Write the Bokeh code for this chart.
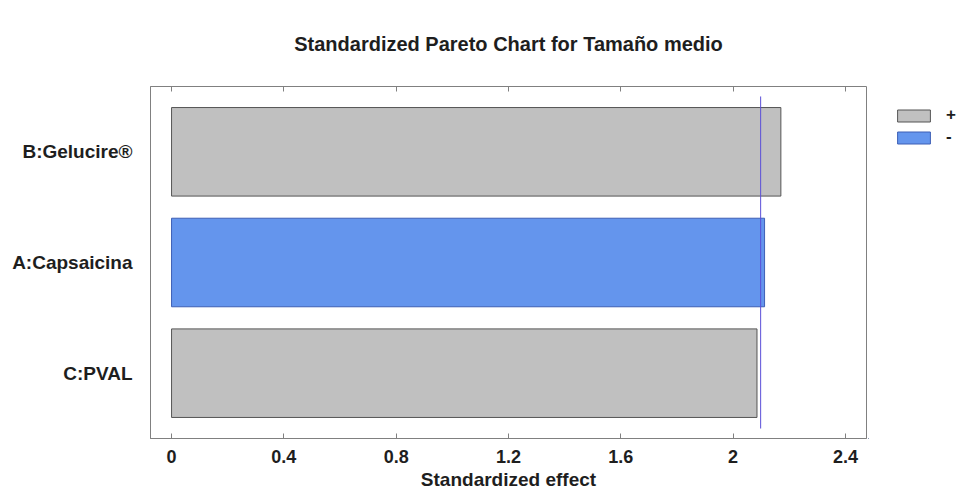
from bokeh.plotting import figure
from bokeh.layouts import row
from bokeh.models import (FixedTicker, LinearAxis, Legend, LegendItem, ColumnDataSource,
                          CustomJSTickFormatter, Range1d)
from bokeh.embed import file_html
from bokeh.resources import INLINE

# ---- data (bottom to top) ----
factors = ["C:PVAL", "A:Capsaicina", "B:Gelucire®"]
effects = [2.085, 2.112, 2.170]
signs = ["+", "-", "+"]
critical_value = 2.098
x_ticks = [0, 0.4, 0.8, 1.2, 1.6, 2.0, 2.4]
legend_labels = ["+", "-"]

FONT = "Liberation Sans"
TXT = "#1e1e1e"
fill_map = {"+": "#c0c0c0", "-": "#6495ed"}
line_map = {"+": "#555555", "-": "#3d5fb5"}

ypos = [i + 1 for i in range(len(factors))]
src = ColumnDataSource(dict(
    y=ypos, right=effects, sign=signs,
    fill=[fill_map[s] for s in signs],
    line=[line_map[s] for s in signs],
))

p = figure(width=868, height=492, output_backend="svg", toolbar_location=None,
           x_range=Range1d(-0.075, 2.475), y_range=Range1d(0.41, 3.59),
           min_border_left=150, min_border_right=2, min_border_top=86, min_border_bottom=51,
           title="Standardized Pareto Chart for Tamaño medio")
p.title.align = "center"
p.title.vertical_align = "top"
p.title.text_font = FONT
p.title.text_font_size = "20px"
p.title.text_font_style = "bold"
p.title.text_color = TXT
p.title.standoff = 60

p.grid.visible = False
p.outline_line_color = "#808080"
p.outline_line_width = 1
p.background_fill_color = "white"

r = p.hbar(y="y", right="right", left=0, height=0.8, source=src,
           fill_color="fill", line_color="line", line_width=1)

p.segment(x0=[critical_value], x1=[critical_value], y0=[0.5], y1=[3.5],
          line_color="#5a4fd8", line_width=1)

# x axis (bottom)
fmt = CustomJSTickFormatter(code="return (Math.round(tick*10)/10).toString();")
xa = p.xaxis[0]
xa.ticker = FixedTicker(ticks=x_ticks)
xa.formatter = fmt
xa.major_tick_in = 5
xa.major_tick_out = 0
xa.minor_tick_line_color = None
xa.axis_line_color = "#808080"
xa.major_tick_line_color = "#808080"
xa.major_label_text_font = FONT
xa.major_label_text_font_style = "bold"
xa.major_label_text_font_size = "18px"
xa.major_label_text_color = TXT
xa.major_label_standoff = 11
xa.axis_label = "Standardized effect"
xa.axis_label_text_font = FONT
xa.axis_label_text_font_style = "bold"
xa.axis_label_text_font_size = "19px"
xa.axis_label_text_color = TXT
xa.axis_label_standoff = 3

# mirrored ticks on top
top = LinearAxis(ticker=FixedTicker(ticks=x_ticks), major_tick_in=5, major_tick_out=0,
                 minor_tick_line_color=None, axis_line_color=None,
                 major_tick_line_color="#808080", major_label_text_alpha=0,
                 major_label_text_font_size="1px", major_label_standoff=0)
p.add_layout(top, "above")

# y axis
ya = p.yaxis[0]
ya.ticker = FixedTicker(ticks=ypos)
ya.major_label_overrides = {y: f for y, f in zip(ypos, factors)}
ya.major_tick_line_color = None
ya.minor_tick_line_color = None
ya.axis_line_color = "#808080"
ya.major_label_text_font = FONT
ya.major_label_text_font_style = "bold"
ya.major_label_text_font_size = "19px"
ya.major_label_text_color = TXT
ya.major_label_standoff = 12

# legend panel to the right of the plot (its frame is aligned with the plot's frame);
# the proxy bars lie outside this panel's ranges, only their legend glyphs show
q = figure(width=91, height=492, output_backend="svg", toolbar_location=None,
           x_axis_type=None, y_axis_type=None, x_range=Range1d(10, 11), y_range=Range1d(10, 11),
           min_border=0, min_border_left=0, min_border_right=0,
           min_border_top=0, min_border_bottom=0)
q.outline_line_color = None
q.grid.visible = False
items = []
for s in legend_labels:
    sel = [i for i, sg in enumerate(signs) if sg == s]
    lr = q.hbar(y=[ypos[i] for i in sel], right=[effects[i] for i in sel], left=0, height=0.8,
                fill_color=fill_map[s], line_color=line_map[s], line_width=1)
    items.append(LegendItem(label=s, renderers=[lr]))
legend = Legend(items=items, location=(25, 291), glyph_width=41, glyph_height=15,
                label_height=15, spacing=2, padding=0, margin=0,
                border_line_color=None, background_fill_alpha=0,
                label_text_font=FONT, label_text_font_style="bold",
                label_text_font_size="17px", label_text_color=TXT, label_standoff=12)
q.add_layout(legend)

layout = row(p, q, spacing=0)
open("out.html", "w").write(file_html(layout, INLINE))
